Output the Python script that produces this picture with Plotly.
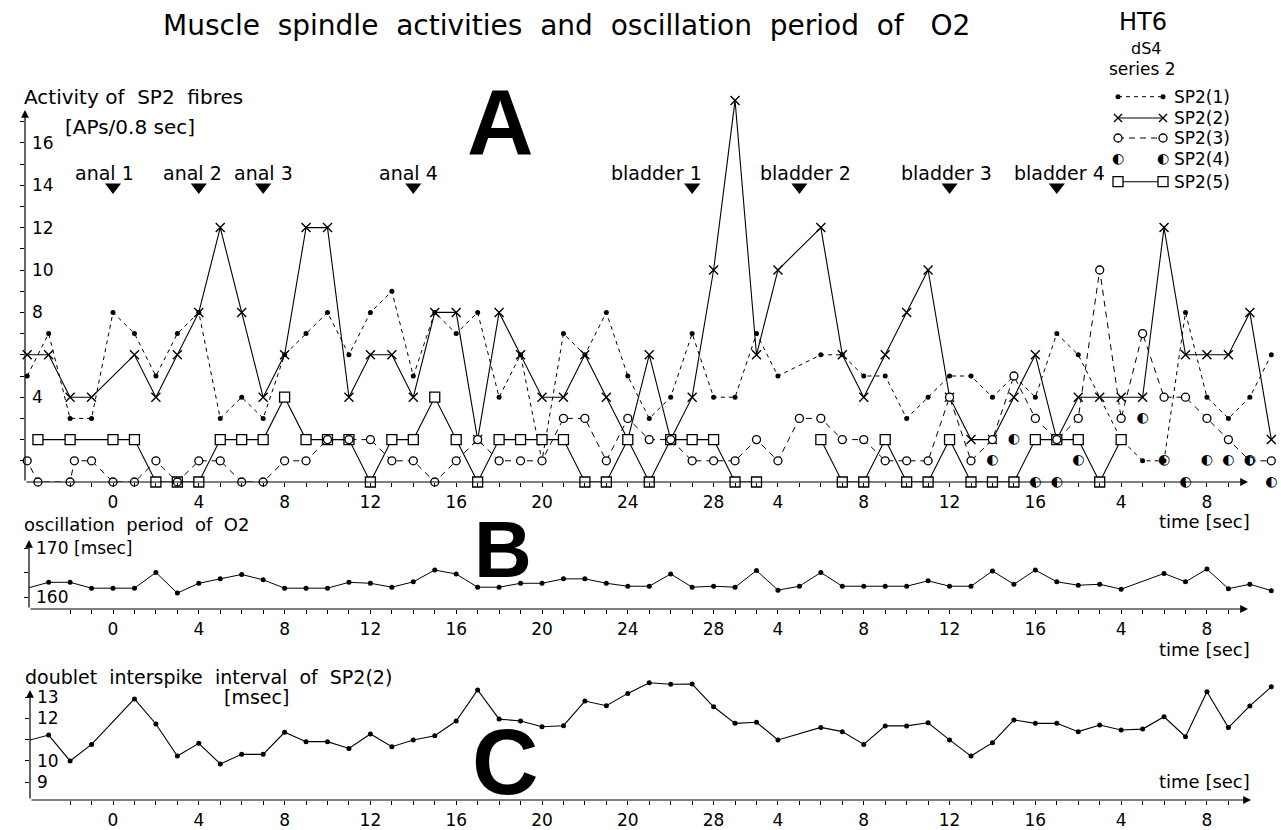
import plotly.graph_objects as go

# ---------------- data ----------------
# panel A : activity of SP2 fibres [APs/0.8 sec]
sp1_t = [-4, -3, -2, -1, 0, 1, 2, 3, 4, 5, 6, 7, 8, 9, 10, 11, 12, 13, 14, 15, 16, 17, 18, 19, 20, 21, 22, 23, 24,
         25, 26, 27, 28, 29, 30, 31, 33, 34, 35, 36, 37, 38, 39, 40, 41, 42, 43, 44, 45, 47, 48, 49, 50, 51, 52, 53, 54]
sp1_v = [5, 7, 3, 3, 8, 7, 5, 7, 8, 3, 4, 3, 6, 7, 8, 6, 8, 9, 5, 8, 7, 8, 4, 6, 1, 7, 6, 8, 5,
         3, 4, 7, 4, 4, 7, 5, 6, 6, 5, 5, 3, 4, 5, 5, 4, 5, 4, 7, 6, 2, 1, 1, 8, 4, 3, 4, 6]

sp2_t = [-4, -3, -2, -1, 1, 2, 3, 4, 5, 6, 7, 8, 9, 10, 11, 12, 13, 14, 15, 16, 17, 18, 19, 20, 21, 22, 23, 24,
         25, 26, 27, 28, 29, 30, 31, 33, 34, 35, 36, 37, 38, 39, 40, 41, 42, 43, 44, 45, 46, 47, 48, 49, 50, 51, 52, 53, 54]
sp2_v = [6, 6, 4, 4, 6, 4, 6, 8, 12, 8, 4, 6, 12, 12, 4, 6, 6, 4, 8, 8, 2, 8, 6, 4, 4, 6, 4, 2,
         6, 2, 4, 10, 18, 6, 10, 12, 6, 4, 6, 8, 10, 4, 2, 2, 4, 6, 2, 4, 4, 4, 4, 12, 6, 6, 6, 8, 2]

sp3_t = [-4.65, -4, -3.5, -2, -1.8, -1, 0, 1, 2, 3, 4, 5, 6, 7, 8, 9, 10, 11, 12, 13, 14, 15, 16, 17, 18, 19, 20,
         21, 22, 23, 24, 25, 26, 27, 28, 29, 30, 31, 32, 33, 34, 35, 36, 37, 38, 39, 40, 41, 42, 43, 44, 45, 46,
         47, 48, 49, 50, 51, 52, 53, 54]
sp3_v = [0, 1, 0, 0, 1, 1, 0, 0, 1, 0, 1, 1, 0, 0, 1, 1, 2, 2, 2, 1, 1, 0, 1, 2, 1, 1, 1,
         3, 3, 1, 3, 2, 2, 1, 1, 1, 2, 1, 3, 3, 2, 2, 1, 1, 1, 4, 1, 2, 5, 3, 2, 3, 10,
         3, 7, 4, 4, 3, 2, 1, 1]

sp4_t = [41, 42, 43, 44, 45, 48, 49, 50, 51, 52, 53, 54]
sp4_v = [1, 2, 0, 0, 1, 3, 1, 0, 1, 1, 1, 0]

sp5_t = [-3.5, -2, 0, 1, 2, 3, 4, 5, 6, 7, 8, 9, 10, 11, 12, 13, 14, 15, 16, 17, 18, 19, 20, 21, 22, 23, 24,
         25, 26, 27, 28, 29, 30, 31, 33, 34, 35, 36, 37, 38, 39, 40, 41, 42, 43, 44, 45, 46, 47]
sp5_v = [2, 2, 2, 2, 0, 0, 0, 2, 2, 2, 4, 2, 2, 2, 0, 2, 2, 4, 2, 0, 2, 2, 2, 2, 0, 0, 2,
         0, 2, 2, 2, 0, 0, None, 2, 0, 0, 2, 0, 0, 2, 0, 0, 0, 2, 2, 2, 0, 2]

# stimulation events
event_t = [0, 4, 7, 14, 27, 32, 39, 44]
event_names = ["anal 1", "anal 2", "anal 3", "anal 4", "bladder 1", "bladder 2", "bladder 3", "bladder 4"]

# panel B : oscillation period of O2 [msec]
t_all = list(range(-4, 55))
period_O2 = [161.8, 163.0, 163.0, 161.8, 161.8, 161.8, 165.0, 160.8, 162.8, 163.7, 164.6, 163.5, 161.8,
             161.8, 161.8, 163.0, 162.8, 162.0, 163.1, 165.5, 164.7, 162.0, 162.0, 162.8, 162.8, 163.7,
             163.7, 162.8, 162.2, 162.2, 164.7, 162.0, 162.2, 162.0, 165.4, 161.4, 162.2, 165.0, 162.2,
             162.2, 162.2, 162.2, 163.3, 162.2, 162.2, 165.3, 162.6, 165.5, 163.1, 162.4, 162.6, 161.6,
             None, 164.8, 163.1, 165.7, 161.7, 162.6, 161.3]

# panel C : doublet interspike interval of SP2(2) [msec]
doublet_isi = [10.94, 11.21, 9.99, 10.77, None, 12.91, 11.73, 10.22, 10.82, 9.85, 10.30, 10.30, 11.34,
               10.90, 10.90, 10.58, 11.26, 10.66, 10.98, 11.18, 11.87, 13.33, 11.96, 11.87, 11.60, 11.65,
               12.81, 12.59, 13.17, 13.67, 13.60, 13.61, 12.54, 11.76, 11.81, 10.98, None, 11.57, 11.37,
               10.77, 11.64, 11.64, 11.79, 10.98, 10.22, 10.85, 11.92, 11.76, 11.76, 11.37, 11.68, 11.45,
               11.49, 12.07, 11.13, 13.25, 11.56, 12.58, 13.48]

# tick labels
xlab_pos = [0, 4, 8, 12, 16, 20, 24, 28, 31, 35, 39, 43, 47, 51]
xlab_AB = ["0", "4", "8", "12", "16", "20", "24", "28", "4", "8", "12", "16", "4", "8"]
xlab_C = ["0", "4", "8", "12", "16", "20", "20", "28", "4", "8", "12", "16", "4", "8"]
ylab_A = {4: "4", 8: "8", 10: "10", 12: "12", 14: "14", 16: "16"}
ylab_B = {160: "160", 170: "170"}
ylab_C = {9: "9", 10: "10", 12: "12", 13: "13"}

# ---------------- geometry helpers (pixel layout) ----------------
W, H = 1281, 830
FONT = "DejaVu Sans"
PX0, PXU = 113.0, 21.45


def u_px(px):
    return (px - PX0) / PXU


def a_v(py):
    return (482.0 - py) / 21.2


def b_v(py):
    return 160.0 + (597.0 - py) / 4.9


def c_v(py):
    return 13.0 + (697.0 - py) / 21.25


panels = {
    "A": dict(left=25, bottom=482, top=58, conv=a_v),
    "B": dict(left=29, bottom=609, top=530, conv=b_v),
    "C": dict(left=30, bottom=800, top=668, conv=c_v),
}

fig = go.Figure()

BLACK = "black"
common = dict(xaxis="x", yaxis="y", showlegend=False, cliponaxis=False, hoverinfo="skip")

# SP2(1)
fig.add_trace(go.Scatter(x=sp1_t, y=sp1_v, mode="lines+markers",
                         line=dict(color=BLACK, width=1, dash="4px,4px"),
                         marker=dict(size=5, color=BLACK), **common))
# SP2(2)
fig.add_trace(go.Scatter(x=sp2_t, y=sp2_v, mode="lines+markers",
                         line=dict(color=BLACK, width=1.1),
                         marker=dict(symbol="x-thin", size=9, line=dict(width=1.4, color=BLACK)), **common))
# SP2(5)
fig.add_trace(go.Scatter(x=sp5_t, y=sp5_v, mode="lines+markers", connectgaps=False,
                         line=dict(color=BLACK, width=1.1),
                         marker=dict(symbol="square", size=10, color="white", line=dict(width=1.3, color=BLACK)),
                         **common))
# SP2(3)
fig.add_trace(go.Scatter(x=sp3_t, y=sp3_v, mode="lines+markers",
                         line=dict(color=BLACK, width=1, dash="6px,5px"),
                         marker=dict(symbol="circle", size=8, color="white", line=dict(width=1.3, color=BLACK)),
                         **common))
# SP2(4)
fig.add_trace(go.Scatter(x=sp4_t, y=sp4_v, mode="text", text=["\u25d0"] * len(sp4_t),
                         textfont=dict(family=FONT, size=14, color=BLACK), **common))
# event arrows
fig.add_trace(go.Scatter(x=event_t, y=[a_v(187)] * len(event_t), mode="markers",
                         marker=dict(symbol="triangle-down", size=14, color=BLACK), **common))

# panel B
fig.add_trace(go.Scatter(x=t_all, y=period_O2, mode="lines+markers", connectgaps=True,
                         line=dict(color=BLACK, width=1), marker=dict(size=5, color=BLACK),
                         xaxis="x2", yaxis="y2", showlegend=False, cliponaxis=False, hoverinfo="skip"))
# panel C
fig.add_trace(go.Scatter(x=t_all, y=doublet_isi, mode="lines+markers", connectgaps=True,
                         line=dict(color=BLACK, width=1.1), marker=dict(size=5, color=BLACK),
                         xaxis="x3", yaxis="y3", showlegend=False, cliponaxis=False, hoverinfo="skip"))

# ---------------- legend (pixel overlay axis) ----------------
leg_rows = [96.7, 118, 138, 159, 181.7]
leg_x0, leg_x1, leg_tx = 1118, 1163, 1172
pxc = dict(xaxis="x4", yaxis="y4", showlegend=False, cliponaxis=False, hoverinfo="skip")
fig.add_trace(go.Scatter(x=[leg_x0, leg_x1], y=[leg_rows[0]] * 2, mode="lines+markers",
                         line=dict(color=BLACK, width=1, dash="4px,4px"), marker=dict(size=5, color=BLACK), **pxc))
fig.add_trace(go.Scatter(x=[leg_x0, leg_x1], y=[leg_rows[1]] * 2, mode="lines+markers",
                         line=dict(color=BLACK, width=1.1),
                         marker=dict(symbol="x-thin", size=8, line=dict(width=1.4, color=BLACK)), **pxc))
fig.add_trace(go.Scatter(x=[leg_x0, leg_x1], y=[leg_rows[2]] * 2, mode="lines+markers",
                         line=dict(color=BLACK, width=1, dash="6px,5px"),
                         marker=dict(symbol="circle", size=8, color="white", line=dict(width=1.3, color=BLACK)), **pxc))
fig.add_trace(go.Scatter(x=[leg_x0, leg_x1], y=[leg_rows[3]] * 2, mode="text", text=["\u25d0"] * 2,
                         textfont=dict(family=FONT, size=14, color=BLACK), **pxc))
fig.add_trace(go.Scatter(x=[leg_x0, leg_x1], y=[leg_rows[4]] * 2, mode="lines+markers",
                         line=dict(color=BLACK, width=1.1),
                         marker=dict(symbol="square", size=10, color="white", line=dict(width=1.3, color=BLACK)), **pxc))

# ---------------- axes ----------------
ax_common = dict(showgrid=False, zeroline=False, showline=False, ticks="outside", ticklen=4, tickwidth=1,
                 tickcolor=BLACK, tickfont=dict(family=FONT, size=17, color=BLACK))

minor_ticks = list(range(-3, 53))


def xaxis_cfg(p, labels, anchor):
    g = panels[p]
    text = [labels[xlab_pos.index(t)] if t in xlab_pos else "" for t in minor_ticks]
    return dict(ax_common, domain=[g["left"] / W, 1], range=[u_px(g["left"]), u_px(W)],
                tickmode="array", tickvals=minor_ticks, ticktext=text, anchor=anchor,
                ticklabelstandoff=1)


def yaxis_cfg(p, tickvals, labels, anchor):
    g = panels[p]
    conv = g["conv"]
    text = [labels.get(v, "") for v in tickvals]
    return dict(ax_common, domain=[1 - g["bottom"] / H, 1 - g["top"] / H],
                range=[conv(g["bottom"]), conv(g["top"])], tickmode="array",
                tickvals=tickvals, ticktext=text, anchor=anchor, ticklabelposition="inside",
                ticklabelstandoff=4)


fig.update_layout(
    width=W, height=H, margin=dict(l=0, r=0, t=0, b=0),
    paper_bgcolor="white", plot_bgcolor="rgba(0,0,0,0)",
    font=dict(family=FONT, color=BLACK),
    xaxis=xaxis_cfg("A", xlab_AB, "y"),
    yaxis=yaxis_cfg("A", list(range(1, 18)), ylab_A, "x"),
    xaxis2=xaxis_cfg("B", xlab_AB, "y2"),
    yaxis2=yaxis_cfg("B", [160, 165, 170], ylab_B, "x2"),
    xaxis3=xaxis_cfg("C", xlab_C, "y3"),
    yaxis3=yaxis_cfg("C", [9, 10, 11, 12, 13], ylab_C, "x3"),
    xaxis4=dict(domain=[0, 1], range=[0, W], visible=False, anchor="y4"),
    yaxis4=dict(domain=[0, 1], range=[H, 0], visible=False, anchor="x4"),
)

ann = []


def txt(text, px, py, size, xanchor="center", bold=False, family=FONT):
    ann.append(dict(text=("<b>%s</b>" % text) if bold else text, x=px / W, y=1 - py / H,
                    xref="paper", yref="paper", xanchor=xanchor, yanchor="middle", showarrow=False,
                    font=dict(family=family, size=size, color=BLACK)))


txt("Muscle  spindle  activities  and  oscillation  period  of   O2", 566, 25, 28)
txt("HT6", 1143, 22, 24)
txt("dS4", 1146, 48, 16)
txt("series 2", 1142, 69, 17)
for i, name in enumerate(["SP2(1)", "SP2(2)", "SP2(3)", "SP2(4)", "SP2(5)"]):
    txt(name, leg_tx, leg_rows[i], 17, xanchor="left")
txt("Activity of  SP2  fibres", 22, 97, 20, xanchor="left")
txt("[APs/0.8 sec]", 63, 127, 20, xanchor="left")
txt("A", 500, 122, 92, bold=True, family="Liberation Sans")
txt("B", 503, 549, 80, bold=True, family="Liberation Sans")
txt("C", 505, 762, 92, bold=True, family="Liberation Sans")
txt("oscillation  period  of  O2", 22, 524, 18, xanchor="left")
txt("[msec]", 72, 548, 17, xanchor="left")
txt("doublet  interspike  interval  of  SP2(2)", 23, 677, 19, xanchor="left")
txt("[msec]", 222, 697, 19, xanchor="left")
for py in (521, 649, 781):
    txt("time [sec]", 1252, py, 18, xanchor="right")

# event labels above arrows
label_shift = [-9, -6, 0, -5, -36, 6, -3, 3]
for t, name, sh in zip(event_t, event_names, label_shift):
    ann.append(dict(text=name, x=t, y=a_v(173), xref="x", yref="y", xshift=sh, showarrow=False,
                    xanchor="center", yanchor="middle", font=dict(family=FONT, size=19, color=BLACK)))


# axis lines with arrowheads
def arrow(xr, yr, x0, y0, x1, y1):
    ann.append(dict(x=x1, y=y1, ax=x0, ay=y0, xref=xr, yref=yr, axref=xr, ayref=yr, text="",
                    showarrow=True, arrowhead=2, arrowsize=1.3, arrowwidth=1.2, arrowcolor=BLACK))


for p, xr, yr, xend, ytop in (("A", "x", "y", 1248, 110), ("B", "x2", "y2", 1248, 540), ("C", "x3", "y3", 1251, 690)):
    g = panels[p]
    conv = g["conv"]
    x0 = u_px(g["left"])
    y0 = conv(g["bottom"])
    arrow(xr, yr, x0, y0, u_px(xend), y0)
    arrow(xr, yr, x0, y0, x0, conv(ytop))

fig.update_layout(annotations=ann)
fig.write_html("out.html")
